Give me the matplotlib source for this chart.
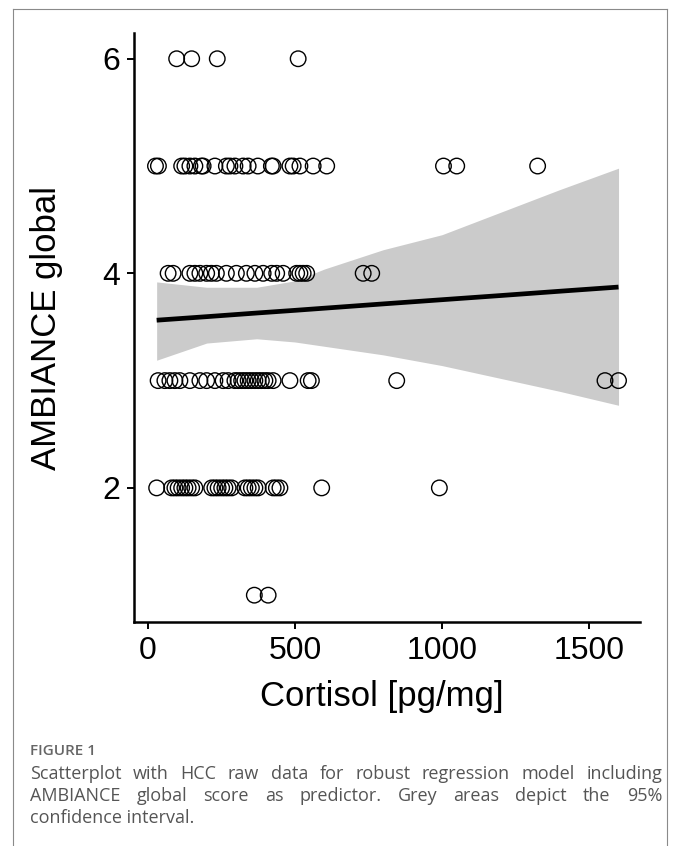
import matplotlib
matplotlib.use("Agg")
import matplotlib.pyplot as plt
from matplotlib.lines import Line2D

# cortisol values (pg/mg) for each AMBIANCE global score
x_score6 = [98, 149, 236, 511]
x_score5 = [26, 36, 115, 126, 143, 160, 182, 188, 228, 267, 279, 296, 324, 341,
            374, 420, 426, 483, 494, 517, 562, 608, 1005, 1050, 1325]
x_score4 = [69, 86, 143, 160, 177, 200, 216, 233, 267, 301, 335, 364, 392, 421,
            438, 460, 506, 517, 528, 540, 732, 761]
x_score3 = [35, 58, 75, 92, 109, 143, 177, 200, 228, 256, 273, 296, 307, 319, 330,
            341, 352, 364, 375, 386, 398, 409, 426, 483, 545, 556, 846, 1554, 1600]
x_score2 = [30, 81, 92, 103, 115, 126, 137, 149, 160, 217, 228, 239, 251, 262, 273,
            285, 330, 341, 352, 364, 375, 426, 437, 449, 591, 991]
x_score1 = [362, 409]

# regression line and 95% CI
fit_x = [30, 200, 370, 500, 600, 800, 1000, 1200, 1400, 1600]
fit_y = [3.563, 3.596, 3.630, 3.655, 3.675, 3.715, 3.754, 3.793, 3.833, 3.872]
ci_lo = [3.19, 3.35, 3.39, 3.36, 3.32, 3.24, 3.14, 3.02, 2.90, 2.77]
ci_hi = [3.92, 3.87, 3.87, 3.93, 4.04, 4.22, 4.36, 4.57, 4.78, 4.98]

xticks = [0, 500, 1000, 1500]
yticks = [2, 4, 6]

W, H = 677, 846
fig = plt.figure(figsize=(W / 100, H / 100), dpi=100)
ax = fig.add_axes([134 / W, 1 - 622 / H, (640 - 134) / W, (622 - 33) / H])

ax.fill_between(fit_x, ci_lo, ci_hi, color="#cbcbcb", lw=0, zorder=1)
ax.plot(fit_x, fit_y, color="black", lw=3.4, solid_capstyle="butt", zorder=3)

rows = [(x_score6, 6), (x_score5, 5), (x_score4, 4), (x_score3, 3), (x_score2, 2), (x_score1, 1)]
for xs, score in rows:
    ax.scatter(xs, [score] * len(xs), s=125, facecolors="none", edgecolors="black",
               linewidths=1.0, zorder=2)

ax.set_xlim(-47, 1673)
ax.set_ylim(0.75, 6.24)
ax.set_xticks(xticks)
ax.set_yticks(yticks)
ax.tick_params(direction="out", length=5, width=1.4, color="black", labelsize=23, pad=5)
for lab in ax.get_xticklabels() + ax.get_yticklabels():
    lab.set_family("Liberation Sans")
for s in ["top", "right"]:
    ax.spines[s].set_visible(False)
for s in ["left", "bottom"]:
    ax.spines[s].set_linewidth(1.8)

ax.set_xlabel("Cortisol [pg/mg]", fontsize=25, family="Liberation Sans")
ax.set_ylabel("AMBIANCE global", fontsize=25, family="Liberation Sans")
ax.xaxis.set_label_coords(0.49, -0.127)
ax.xaxis.label.set_va("center")
ax.yaxis.set_label_coords(-0.172, 0.5)
ax.yaxis.label.set_va("center")

# page frame
fc = "#8a8a8a"
fig.add_artist(Line2D([13 / W, 13 / W], [0, 1 - 9 / H], color=fc, lw=0.8))
fig.add_artist(Line2D([667 / W, 667 / W], [0, 1 - 9 / H], color=fc, lw=0.8))
fig.add_artist(Line2D([13 / W, 667 / W], [1 - 9 / H, 1 - 9 / H], color=fc, lw=0.8))

# caption
cap_col = "#555555"
fig.text(30 / W, 1 - 751 / H, "FIGURE 1", fontsize=11, family="Open Sans",
         weight="semibold", color="#666666", va="center")
lines = ["Scatterplot with HCC raw data for robust regression model including",
         "AMBIANCE global score as predictor. Grey areas depict the 95%",
         "confidence interval."]
left, right = 30, 662
renderer = fig.canvas.get_renderer()
for i, line in enumerate(lines):
    y = 1 - (774 + i * 22) / H
    words = line.split()
    if i == len(lines) - 1:
        fig.text(left / W, y, line, fontsize=13, family="Open Sans", color=cap_col, va="center")
        continue
    arts = [fig.text(0, y, w_, fontsize=13, family="Open Sans", color=cap_col, va="center")
            for w_ in words]
    widths = [a.get_window_extent(renderer).width for a in arts]
    gap = (right - left - sum(widths)) / (len(words) - 1)
    xpos = left
    for a, wd in zip(arts, widths):
        a.set_x(xpos / W)
        xpos += wd + gap

fig.savefig("out.png", dpi=100)
